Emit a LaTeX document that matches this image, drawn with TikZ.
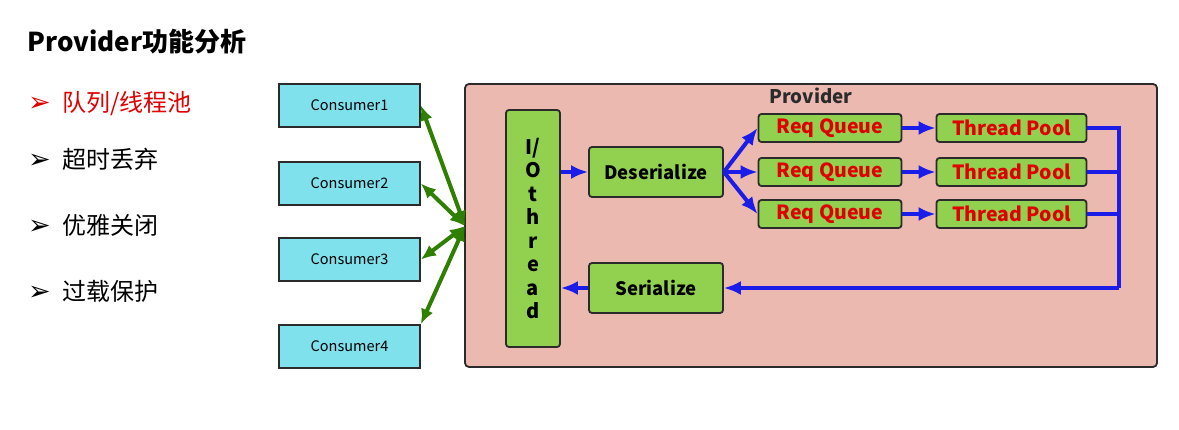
\documentclass[tikz,border=0pt]{standalone}
\usepackage{fontspec}
\setmainfont{Noto Sans CJK SC}
\newfontfamily\symfont{DejaVu Sans}
\usetikzlibrary{arrows.meta,positioning}
\definecolor{ink}{HTML}{2B2B2B}
\definecolor{cyanbox}{HTML}{7FE1EC}
\definecolor{leaf}{HTML}{92D050}
\definecolor{blush}{HTML}{ECB9B1}
\definecolor{wire}{HTML}{1C1CE8}
\definecolor{moss}{HTML}{2F8000}
\definecolor{alert}{HTML}{E00000}
\newcommand{\pointer}{\makebox[34pt][l]{\symfont\fontsize{27}{28}\selectfont ➢}}

\begin{document}
\begin{tikzpicture}[x=1pt,y=-1pt,>=Latex,
      consumer/.style={draw=ink,fill=cyanbox,line width=1.8pt,minimum width=141pt,
                    minimum height=43pt,inner sep=0pt,font=\fontsize{14.5}{17}\selectfont},
      stagebox/.style={draw=ink,fill=leaf,rounded corners=3pt,line width=1.8pt,
                    minimum width=134pt,minimum height=50pt,inner sep=0pt,
                    font=\fontsize{18.5}{22}\selectfont\bfseries},
      queue/.style={draw=ink,fill=leaf,rounded corners=3pt,line width=1.8pt,
                    minimum height=28pt,inner sep=0pt,text=alert,
                    font=\fontsize{19.5}{22}\selectfont\bfseries},
      bullet/.style={anchor=west,inner sep=0pt,font=\fontsize{24}{28}\selectfont},
      flow/.style={line width=4pt,draw=wire,arrows={-Latex[length=17pt,width=14pt]}},
      link/.style={line width=4pt,draw=wire},
      duplex/.style={line width=4pt,draw=moss,arrows={Latex[length=15pt,width=13pt]-Latex[length=15pt,width=13pt]}}]
    \useasboundingbox[fill=white] (0,0) rectangle (1179,430);
    % heading and bullet list
    \node[anchor=west,font=\fontsize{26}{30}\selectfont\bfseries] (title) at (24,42) {Provider功能分析};
    \node[bullet,text=alert] (b1) at (28,104) {\pointer 队列/线程池};
    \node[bullet] (b2) at (28,159) {\pointer 超时丢弃};
    \node[bullet] (b3) at (28,225) {\pointer 优雅关闭};
    \node[bullet] (b4) at (28,291) {\pointer 过载保护};
    % consumers
    \node[consumer] (c1) at (349.5,105.5) {Consumer1};
    \node[consumer] (c2) at (349.5,183.5) {Consumer2};
    \node[consumer] (c3) at (349.5,259.5) {Consumer3};
    \node[consumer] (c4) at (349.5,346.5) {Consumer4};
    % provider frame
    \node[draw=ink,fill=blush,rounded corners=4pt,line width=1.8pt,minimum width=692pt,
          minimum height=283pt,inner sep=0pt] (provider) at (811,225.5) {};
    \node[font=\fontsize{18.8}{22}\selectfont\bfseries,text=ink] (ptitle) at (811,96) {Provider};
    \coordinate (hub) at (465,226);
    \draw[duplex] (hub) -- (c1.east);
    \draw[duplex] (hub) -- (c2.east);
    \draw[duplex] (hub) -- (c3.east);
    \draw[duplex] (hub) -- (c4.north east);
    % inner stages
    \node[stagebox,minimum width=54pt,minimum height=237pt,align=center,
          font=\fontsize{20}{23.5}\selectfont\bfseries] (io) at (533,228.5)
          {I/\\O\\t\\h\\r\\e\\a\\d};
    \node[stagebox] (deser) at (656,172) {Deserialize};
    \node[stagebox] (ser) at (656,288) {Serialize};
    \foreach \i/\y in {1/128,2/172,3/214}{
      \node[queue,minimum width=143pt] (rq\i) at (830,\y) {Req Queue};
      \node[queue,minimum width=150pt] (tp\i) at (1011.5,\y) {Thread Pool};
      \draw[flow] (deser.east) -- (rq\i.west);
      \draw[flow] (rq\i.east) -- (tp\i.west);
      \draw[link] (tp\i.east) -- (1119,\y);
    }
    \coordinate (bend) at (1119,288);
    \draw[flow] (io.east |- deser) -- (deser.west);
    \draw[link] (1119,126) -- (bend);
    \draw[flow] (bend) -- (ser.east);
    \draw[flow] (ser.west) -- (io.east |- ser);
\end{tikzpicture}
\end{document}
